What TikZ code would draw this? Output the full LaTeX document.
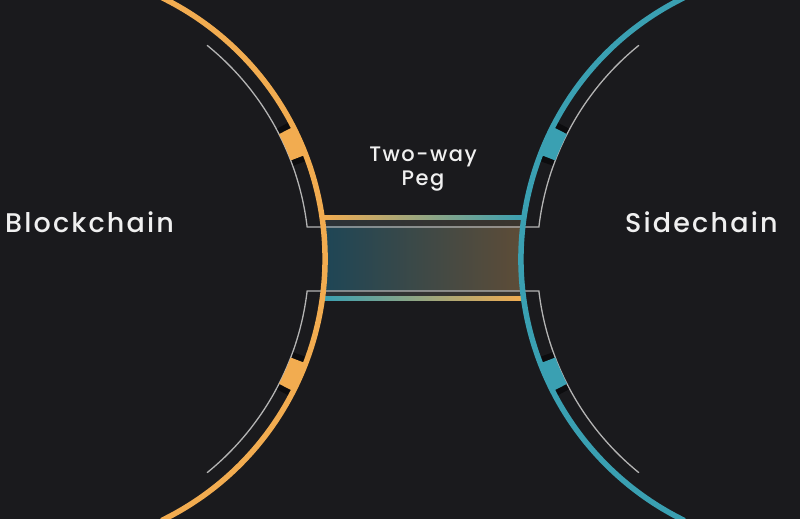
\documentclass[tikz,border=0pt]{standalone}
\usepackage{fontspec}
\setmainfont{Poppins Medium}
\usetikzlibrary{calc,positioning}
\definecolor{bg}{HTML}{1A1A1D}
\definecolor{gold}{HTML}{F2AC50}
\definecolor{pegteal}{HTML}{3AA0B2}
\definecolor{guidegray}{HTML}{B4B4B4}
\definecolor{notch}{HTML}{0C0C0E}
\definecolor{bandl}{HTML}{2B3237}
\definecolor{bandr}{HTML}{3B352E}
\definecolor{pegl}{HTML}{1E4656}
\definecolor{pegr}{HTML}{5E4C37}
\tikzset{
  rim/.style={line width=5.5pt},
  guide/.style={draw=guidegray, line width=1.3pt},
  chaintext/.style={text=white!94!black, inner sep=0pt,
    font=\fontsize{27}{30}\selectfont\addfontfeature{LetterSpace=8}},
  pegtext/.style={text=white!94!black, inner sep=0pt,
    font=\fontsize{21}{24}\selectfont\addfontfeature{LetterSpace=7}}
}
\begin{document}
\begin{tikzpicture}[x=1pt,y=1pt]
  \fill[bg] (0,0) rectangle (800,519);
  \useasboundingbox (0,0) rectangle (800,519);
  \clip (0,0) rectangle (800,519);
  \coordinate (L) at (34,260);
  \coordinate (R) at (812,260);
  % bridge
  \shade[left color=bandl, right color=bandr] (323,220) rectangle (523,301);
  \shade[left color=pegl, right color=pegr] (323,228) rectangle (523,292);
  % guide lines
  \foreach \s in {1,-1}
    \draw[guide] ($(L)+({51*\s}:275)$) arc[start angle={51*\s}, end angle={6.7*\s}, radius=275]
      -- ($(R)+({180-6.7*\s}:275)$) arc[start angle={180-6.7*\s}, end angle={180-51*\s}, radius=275];
  % notches and blocks
  \foreach \a in {21,-27}{
    \fill[notch] ($(L)+({\a-1.2}:276)$) arc[start angle={\a-1.2}, end angle={\a+7.2}, radius=276]
      -- ($(L)+({\a+7.2}:289)$) arc[start angle={\a+7.2}, end angle={\a-1.2}, radius=289] -- cycle;
    \fill[gold] ($(L)+(\a:275)$) arc[start angle=\a, end angle={\a+6}, radius=275]
      -- ($(L)+({\a+6}:290)$) arc[start angle={\a+6}, end angle=\a, radius=290] -- cycle;
    \fill[notch] ($(R)+({180-(\a)-7.2}:276)$) arc[start angle={180-(\a)-7.2}, end angle={180-(\a)+1.2}, radius=276]
      -- ($(R)+({180-(\a)+1.2}:289)$) arc[start angle={180-(\a)+1.2}, end angle={180-(\a)-7.2}, radius=289] -- cycle;
    \fill[pegteal] ($(R)+({180-(\a)-6}:275)$) arc[start angle={180-(\a)-6}, end angle={180-(\a)}, radius=275]
      -- ($(R)+({180-(\a)}:290)$) arc[start angle={180-(\a)}, end angle={180-(\a)-6}, radius=290] -- cycle;
  }
  % bridge borders
  \shade[left color=gold, right color=pegteal] (323,299) rectangle (523,303);
  \shade[left color=pegteal, right color=gold] (323,218) rectangle (523,222);
  % rims
  \draw[rim, gold] ($(L)+(-64:291)$) arc[start angle=-64, end angle=64, radius=291];
  \draw[rim, pegteal] ($(R)+(116:291)$) arc[start angle=116, end angle=244, radius=291];
  % labels
  \node[chaintext, anchor=base west] (chain) at (5,286) {Blockchain};
  \node[chaintext, anchor=base west] (side) at (625,286) {Sidechain};
  \node[pegtext, anchor=base] (peg) at (423,357) {Two-way};
  \node[pegtext, anchor=base] (pegb) at ([yshift=-24pt]peg.base) {Peg};
\end{tikzpicture}
\end{document}
